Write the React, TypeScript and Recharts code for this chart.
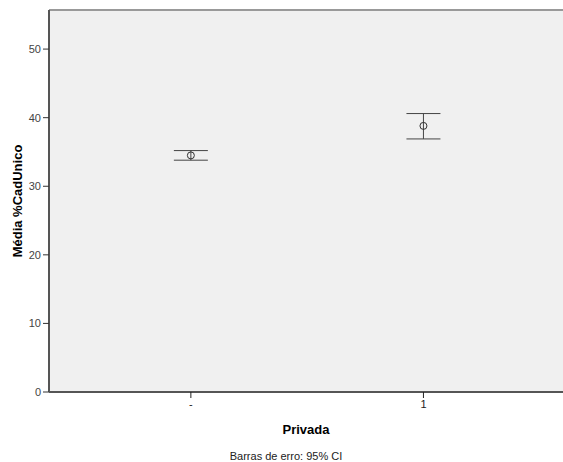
import React from "react";
import {
  ComposedChart,
  Scatter,
  ErrorBar,
  XAxis,
  YAxis,
  CartesianGrid,
  ReferenceLine,
  Label,
} from "recharts";

// group labels on the x axis ("Privada")
const categories = ["-", "1"];
// mean %CadUnico per group and 95% CI bounds
const means = [34.5, 38.8];
const lower = [33.8, 36.9];
const upper = [35.2, 40.6];
const yTicks = [0, 10, 20, 30, 40, 50];

const Y_MAX = 55.7;

const data = categories.map((c, i) => ({
  x: i,
  name: c,
  y: means[i],
  err: [means[i] - lower[i], upper[i] - means[i]],
}));

function OpenCircle(props: any) {
  const { cx, cy } = props;
  if (cx == null || cy == null) return null;
  return <circle cx={cx} cy={cy} r={3.5} fill="none" stroke="#333" strokeWidth={1} />;
}

export default function App() {
  return (
    <div
      style={{
        position: "absolute",
        left: 0,
        top: 0,
        width: 563,
        height: 462,
        background: "#fff",
        fontFamily: "'Liberation Sans', Arial, sans-serif",
      }}
    >
      <ComposedChart
        width={563}
        height={462}
        data={data}
        margin={{ top: 10, right: 0, bottom: 0, left: 0 }}
      >
        <CartesianGrid
          horizontal={false}
          vertical={false}
          fill="#f0f0f0"
          fillOpacity={1}
        />
        <XAxis
          type="number"
          dataKey="x"
          domain={[-0.61, 1.6]}
          allowDataOverflow
          ticks={[0, 1]}
          tickFormatter={(v: number) => categories[v] ?? ""}
          height={70}
          tickSize={6}
          axisLine={{ stroke: "#555", strokeWidth: 2 }}
          tickLine={{ stroke: "#222", strokeWidth: 1 }}
          tick={{ fontSize: 11, fill: "#222" }}
        >
          <Label
            value="Privada"
            position="insideBottom"
            offset={28}
            style={{ fontSize: 13, fontWeight: "bold", fill: "#000" }}
          />
          <Label
            value="Barras de erro: 95% CI"
            position="insideBottom"
            offset={2}
            dx={-20}
            style={{ fontSize: 11, fill: "#222" }}
          />
        </XAxis>
        <YAxis
          type="number"
          domain={[0, Y_MAX]}
          allowDataOverflow
          ticks={yTicks}
          width={49}
          tickSize={6}
          axisLine={{ stroke: "#555", strokeWidth: 2 }}
          tickLine={{ stroke: "#333", strokeWidth: 1 }}
          tick={{ fontSize: 11, fill: "#444" }}
          label={{
            value: "Média %CadUnico",
            angle: -90,
            position: "insideLeft",
            offset: 17,
            style: { textAnchor: "middle", fontSize: 13, fontWeight: "bold", fill: "#000" },
          }}
        />
        <ReferenceLine y={Y_MAX} stroke="#999" strokeWidth={2} />
        <Scatter dataKey="y" shape={<OpenCircle />} isAnimationActive={false}>
          <ErrorBar
            dataKey="err"
            direction="y"
            width={17}
            stroke="#444"
            strokeWidth={1}
            isAnimationActive={false}
          />
        </Scatter>
      </ComposedChart>
    </div>
  );
}
